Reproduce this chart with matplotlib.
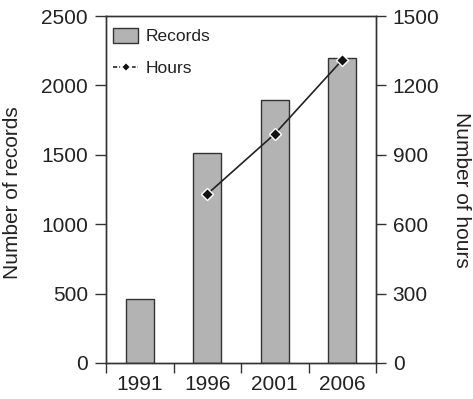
import matplotlib
matplotlib.use("Agg")
import matplotlib.pyplot as plt
from matplotlib.lines import Line2D
from matplotlib.patches import Patch
import numpy as np

plt.rcParams['font.family'] = ['Liberation Sans', 'DejaVu Sans']

years = ["1991", "1996", "2001", "2006"]
records = [460, 1510, 1895, 2200]
hour_years = ["1996", "2001", "2006"]
hours = [730, 990, 1310]

left_ticks = [0, 500, 1000, 1500, 2000, 2500]
right_ticks = [0, 300, 600, 900, 1200, 1500]

dark = "#333333"
fig = plt.figure(figsize=(4.73, 3.99), dpi=100)
ax = fig.add_axes([106/473, 1-363/399, 270/473, 347/399])

x = np.arange(len(years))
ax.bar(x, records, width=0.42, color="#b3b3b3", edgecolor=dark, linewidth=1.0, zorder=2)
ax.set_xlim(-0.5, len(years) - 0.5)
ax.set_ylim(0, 2500)
ax.set_yticks(left_ticks)
ax.set_yticklabels([str(t) for t in left_ticks])
ax.set_xticks(np.arange(len(years) + 1) - 0.5)
ax.set_xticklabels([])
ax.set_xticks(x, minor=True)
ax.set_xticklabels(years, minor=True)
ax.tick_params(axis='x', which='minor', length=0, pad=9, labelsize=15, labelcolor="#222222")
ax.tick_params(axis='x', which='major', length=7, width=1, color=dark)
ax.tick_params(axis='y', length=8, width=1, color=dark, pad=5, labelsize=15, labelcolor="#222222")
for s in ax.spines.values():
    s.set_color(dark)
    s.set_linewidth(1.0)
ax.set_ylabel("Number of records", fontsize=15, color="#222222")
ax.yaxis.set_label_coords(-0.312, 0.49)

ax2 = ax.twinx()
hx = [years.index(y) for y in hour_years]
ax2.plot(hx, hours, color="#222222", linewidth=1.2, marker="D", markersize=6,
         markerfacecolor="#111111", markeredgecolor="white", markeredgewidth=1.0, zorder=3)
ax2.set_ylim(0, 1500)
ax2.set_yticks(right_ticks)
ax2.set_yticklabels([str(t) for t in right_ticks])
ax2.tick_params(axis='y', length=7, width=1, color=dark, pad=5, labelsize=15, labelcolor="#222222")
for s in ax2.spines.values():
    s.set_color(dark)
    s.set_linewidth(1.0)
ax2.set_ylabel("Number of hours", fontsize=15, rotation=270, color="#222222")
ax2.yaxis.set_label_coords(1.35, 0.5)

handles = [Patch(facecolor="#b3b3b3", edgecolor=dark, linewidth=1.0),
           Line2D([0], [0], color="#222222", linewidth=1.2, marker="D", markersize=5,
                  markerfacecolor="#111111", markeredgecolor="white", markeredgewidth=1.5,
                  linestyle=(0, (2.5, 1.2)))]
leg = ax.legend(handles, ["Records", "Hours"], loc="upper left", frameon=False,
                fontsize=12.5, handlelength=1.45, handleheight=0.9, handletextpad=0.42,
                labelspacing=0.9, borderpad=0.2, borderaxespad=0.2,
                bbox_to_anchor=(0.0, 0.985), labelcolor="#222222")

fig.savefig("out.png", dpi=100)
